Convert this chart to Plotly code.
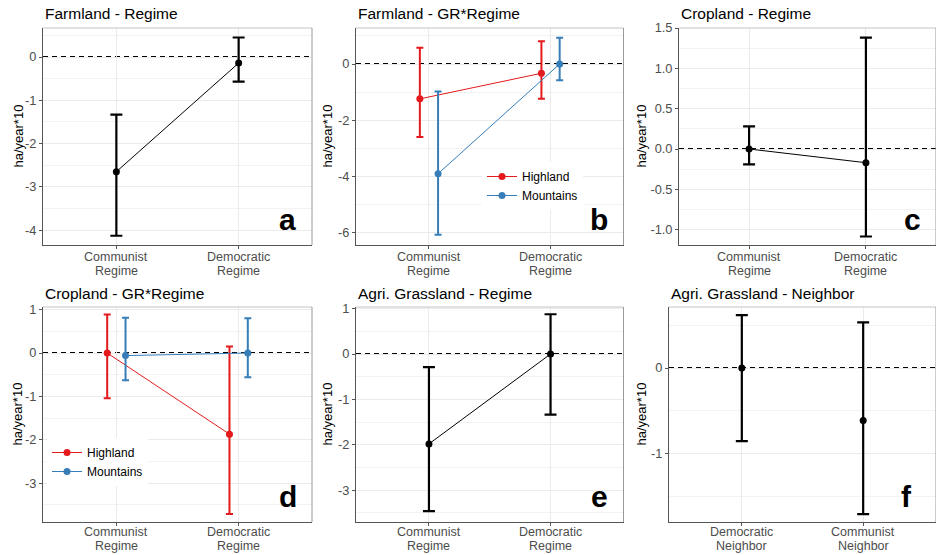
import plotly.graph_objects as go

W, H = 936, 555

# ---------------- data ----------------
regime_labels = ["Communist<br>Regime", "Democratic<br>Regime"]
neighbor_labels = ["Democratic<br>Neighbor", "Communist<br>Neighbor"]

a_est = [-2.65, -0.14]
a_lo = [-4.13, -0.57]
a_hi = [-1.33, 0.45]

b_high_est = [-1.24, -0.33]
b_high_lo = [-2.60, -1.24]
b_high_hi = [0.58, 0.81]
b_mount_est = [-3.90, 0.0]
b_mount_lo = [-6.07, -0.58]
b_mount_hi = [-0.98, 0.93]

c_est = [0.0, -0.17]
c_lo = [-0.19, -1.085]
c_hi = [0.28, 1.38]

d_high_est = [0.0, -1.87]
d_high_lo = [-1.04, -3.71]
d_high_hi = [0.89, 0.15]
d_mount_est = [-0.06, 0.0]
d_mount_lo = [-0.63, -0.56]
d_mount_hi = [0.81, 0.80]

e_est = [-1.98, 0.0]
e_lo = [-3.46, -1.335]
e_hi = [-0.29, 0.875]

f_est = [0.0, -0.61]
f_lo = [-0.85, -1.70]
f_hi = [0.615, 0.53]

titles = ["Farmland - Regime", "Farmland - GR*Regime", "Cropland - Regime",
          "Cropland - GR*Regime", "Agri. Grassland - Regime", "Agri. Grassland - Neighbor"]
letters = ["a", "b", "c", "d", "e", "f"]

# ---------------- style ----------------
FONT = "Liberation Sans, Arial, sans-serif"
RED = "#E41A1C"
BLUE = "#377EB8"
GRID = "#ebebeb"
TICKC = "#4d4d4d"

# pixel boxes of panels (left, right, top, bottom)
boxes = [
    (43, 312, 28, 245), (356, 623.5, 28, 245), (679, 936, 28, 245),
    (43, 312, 307, 522), (356, 623.5, 307, 522), (669, 936, 307, 522),
]
yranges = [(-4.36, 0.67), (-6.41, 1.28), (-1.2, 1.5),
           (-3.94, 1.06), (-3.67, 1.035), (-1.81, 0.71)]
yticks = [[-4, -3, -2, -1, 0], [-6, -4, -2, 0], [-1.0, -0.5, 0.0, 0.5, 1.0, 1.5],
          [-3, -2, -1, 0, 1], [-3, -2, -1, 0, 1], [-1, 0]]
ydticks_minor = [0.5, 1, 0.25, 0.5, 0.5, 0.5]
ytick_fmt = ["{:g}", "{:g}", "{:.1f}", "{:g}", "{:g}", "{:g}"]
ytitle_x = [18, 327, 641, 17, 327, 641]
xlabels = [regime_labels] * 5 + [neighbor_labels]
letter_x = [2.4, 2.4, 2.4, 2.4, 2.4, 2.36]
connect = [True, True, True, True, True, False]

fig = go.Figure()

DODGE = 0.075


def add_series(i, est, lo, hi, color, name=None, offset=0.0, legend=None, cap=6, thick=2.2):
    xs = [k + 1 + offset for k in range(len(est))]
    fig.add_trace(go.Scatter(
        x=xs, y=est, mode="lines+markers" if connect[i] else "markers",
        line=dict(color=color, width=1),
        marker=dict(color=color, size=7),
        error_y=dict(type="data", symmetric=False,
                     array=[h - e for h, e in zip(hi, est)],
                     arrayminus=[e - l for e, l in zip(est, lo)],
                     color=color, thickness=thick, width=cap),
        name=name or "",
        showlegend=legend is not None,
        legend=legend if legend else "legend",
        xaxis=f"x{i+1}", yaxis=f"y{i+1}",
        hoverinfo="skip",
    ))


add_series(0, a_est, a_lo, a_hi, "black")
add_series(1, b_high_est, b_high_lo, b_high_hi, RED, "Highland", -DODGE, "legend", 3.5, 2)
add_series(1, b_mount_est, b_mount_lo, b_mount_hi, BLUE, "Mountains", DODGE, "legend", 3.5, 2)
add_series(2, c_est, c_lo, c_hi, "black")
add_series(3, d_high_est, d_high_lo, d_high_hi, RED, "Highland", -DODGE, "legend2", 3.5, 2)
add_series(3, d_mount_est, d_mount_lo, d_mount_hi, BLUE, "Mountains", DODGE, "legend2", 3.5, 2)
add_series(4, e_est, e_lo, e_hi, "black")
add_series(5, f_est, f_lo, f_hi, "black")


def snap_range(lo, hi, h):
    # nudge lower limit so the zero reference line falls on a whole pixel
    off = hi / (hi - lo) * h
    target = round(off)
    return (hi - hi * h / target, hi)


layout = dict(
    width=W, height=H, margin=dict(l=0, r=0, t=0, b=0, autoexpand=False),
    paper_bgcolor="white", plot_bgcolor="white",
    font=dict(family=FONT, size=12, color="black"),
    showlegend=True,
)
shapes = []
annotations = []
for i, (l, r, t, b) in enumerate(boxes):
    n = i + 1
    xd = [l / W, r / W]
    yd = [1 - b / H, 1 - t / H]
    yr_lo, yr_hi = snap_range(yranges[i][0], yranges[i][1], b - t)
    layout[f"xaxis{n}"] = dict(
        domain=xd, range=[0.4, 2.6], anchor=f"y{n}", automargin=False,
        tickvals=[1, 2], showticklabels=False,
        showgrid=True, gridcolor=GRID, gridwidth=1, zeroline=False,
        showline=True, linecolor="#555555", linewidth=1,
        ticks="outside", ticklen=3, tickcolor="#555555",
        fixedrange=True,
    )
    layout[f"yaxis{n}"] = dict(
        domain=yd, range=[yr_lo, yr_hi], anchor=f"x{n}", automargin=False,
        tickvals=yticks[i], ticktext=[ytick_fmt[i].format(v) for v in yticks[i]],
        showgrid=True, gridcolor=GRID, gridwidth=1, zeroline=False,
        minor=dict(dtick=ydticks_minor[i], tick0=0, showgrid=True, gridcolor="#f3f3f3", gridwidth=0.7),
        showline=True, linecolor="#555555", linewidth=1,
        ticks="outside", ticklen=3, tickcolor="#555555",
        tickfont=dict(family=FONT, size=12.8, color=TICKC),
        fixedrange=True,
    )
    xr = "x" if n == 1 else f"x{n}"
    yr = "y" if n == 1 else f"y{n}"
    # two-line category labels with tight line spacing
    first = 11.5 if i < 3 else 10
    for k, lab in enumerate(xlabels[i]):
        for j, part in enumerate(lab.split("<br>")):
            annotations.append(dict(text=part, xref=xr, yref=f"{yr} domain",
                                    x=k + 1, y=0, yshift=-(first + 14 * j),
                                    xanchor="center", yanchor="middle", showarrow=False,
                                    font=dict(family=FONT, size=12.5, color=TICKC)))
    # light top/right border
    shapes.append(dict(type="line", xref=f"{xr} domain", yref=f"{yr} domain",
                       x0=0, x1=1, y0=1, y1=1, line=dict(color="#c4c4c4", width=1), layer="above"))
    shapes.append(dict(type="line", xref=f"{xr} domain", yref=f"{yr} domain",
                       x0=1, x1=1, y0=0, y1=1, line=dict(color="#9a9a9a", width=1), layer="above"))
    # dashed zero line
    shapes.append(dict(type="line", xref=f"{xr} domain", yref=yr,
                       x0=0, x1=1, y0=0, y1=0,
                       line=dict(color="black", width=2, dash="5px,4px"), layer="below"))
    # title
    annotations.append(dict(text=titles[i], xref="paper", yref="paper",
                            x=l / W, y=1 - (t - 14) / H, xanchor="left", yanchor="middle",
                            showarrow=False, font=dict(family=FONT, size=15.5, color="black")))
    # y-axis title
    annotations.append(dict(text="ha/year*10", xref="paper", yref="paper",
                            x=ytitle_x[i] / W, y=1 - (t + b) / 2 / H, textangle=-90,
                            xanchor="center", yanchor="middle", showarrow=False,
                            font=dict(family=FONT, size=13, color="black")))
    # panel letter
    annotations.append(dict(text=f"<b>{letters[i]}</b>", xref=xr, yref=f"{yr} domain",
                            x=letter_x[i], y=0.118, xanchor="center", yanchor="middle",
                            showarrow=False, font=dict(family=FONT, size=30, color="black")))

layout["shapes"] = shapes
layout["annotations"] = annotations
layout["legend"] = dict(x=482 / W, y=1 - 162 / H, xanchor="left", yanchor="top",
                        bgcolor="white", borderwidth=0,
                        font=dict(family=FONT, size=12, color="black"),
                        itemwidth=30, tracegroupgap=0)
layout["legend2"] = dict(x=47 / W, y=1 - 438 / H, xanchor="left", yanchor="top",
                         bgcolor="white", borderwidth=0,
                         font=dict(family=FONT, size=12, color="black"),
                         itemwidth=30, tracegroupgap=0)
fig.update_layout(**layout)

fig.write_html("out.html")
